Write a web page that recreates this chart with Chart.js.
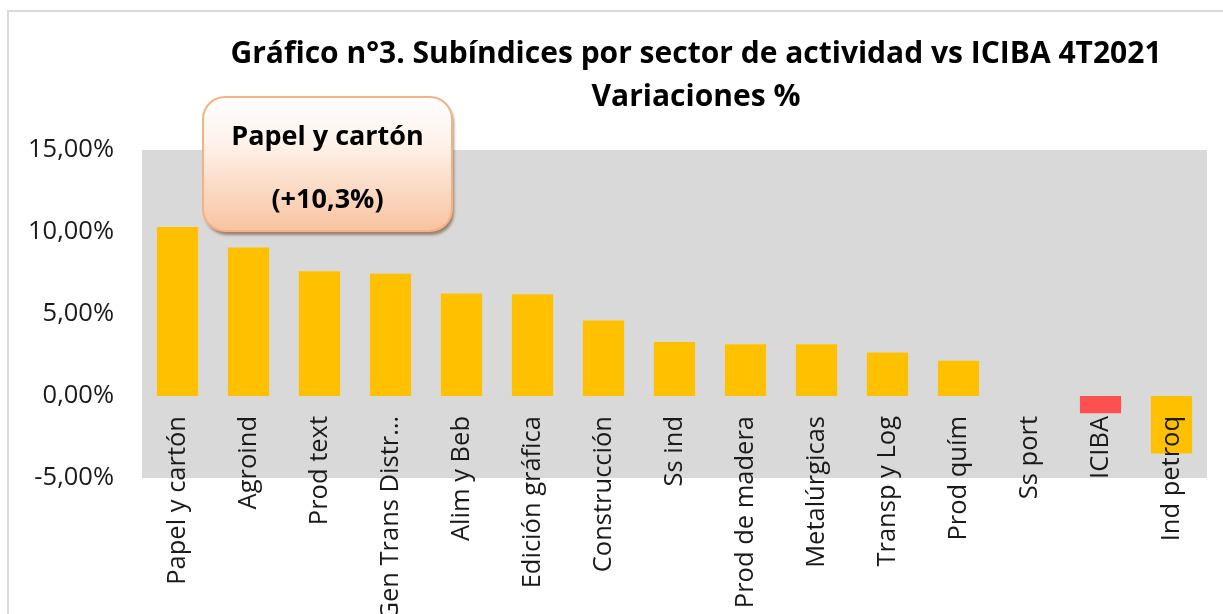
<!DOCTYPE html>
<html>
<head>
<meta charset="utf-8">
<script src="https://cdn.jsdelivr.net/npm/chart.js@4.4.1/dist/chart.umd.min.js"></script>
<style>
  html, body { margin: 0; padding: 0; background: #fff; }
  #wrap { width: 1223px; height: 614px; }
</style>
</head>
<body>
<div id="wrap"><canvas id="sectorChart"></canvas></div>
<script>
// DATA
const sectorLabels = ['Papel y cartón', 'Agroind', 'Prod text', 'Gen Trans Distr…', 'Alim y Beb',
  'Edición gráfica', 'Construcción', 'Ss ind', 'Prod de madera', 'Metalúrgicas',
  'Transp y Log', 'Prod quím', 'Ss port', 'ICIBA', 'Ind petroq'];
const variaciones = [10.3, 9.05, 7.6, 7.45, 6.25, 6.2, 4.6, 3.3, 3.15, 3.15, 2.65, 2.15, 0, -1.05, -3.5];
const yMin = -5, yMax = 15, yStep = 5;
const titleLines = ['Gráfico n°3. Subíndices por sector de actividad vs ICIBA 4T2021', 'Variaciones %'];
const calloutLines = ['Papel y cartón', '(+10,3%)'];

const barColors = sectorLabels.map(l => l === 'ICIBA' ? '#FF5050' : '#FFC000');
const FONT = '"Open Sans"';

// fondo, marco y área gris
const backdrop = {
  id: 'backdrop',
  beforeDraw(chart) {
    const {ctx, chartArea: a} = chart;
    ctx.save();
    ctx.fillStyle = '#fff';
    ctx.fillRect(0, 0, chart.width, chart.height);
    ctx.strokeStyle = '#d9d9d9';
    ctx.lineWidth = 2;
    ctx.beginPath();
    ctx.moveTo(8, chart.height);
    ctx.lineTo(8, 11);
    ctx.lineTo(chart.width, 11);
    ctx.stroke();
    ctx.fillStyle = '#d9d9d9';
    ctx.fillRect(a.left, a.top, a.right - a.left, a.bottom - a.top);
    ctx.restore();
  }
};

// titulo en dos lineas
const titleText = {
  id: 'titleText',
  afterDraw(chart) {
    const {ctx} = chart;
    ctx.save();
    ctx.fillStyle = '#000';
    ctx.font = 'bold 30px ' + FONT;
    ctx.textAlign = 'center';
    ctx.textBaseline = 'alphabetic';
    ctx.fillText(titleLines[0], 696, 63);
    ctx.fillText(titleLines[1], 696, 106);
    ctx.restore();
  }
};

// recuadro "Papel y cartón"
const callout = {
  id: 'callout',
  afterDraw(chart) {
    const {ctx, chartArea: a} = chart;
    const x = a.left + 61, y = a.top - 53, w = 249, h = 134, r = 22;
    ctx.save();
    const g = ctx.createLinearGradient(0, y, 0, y + h);
    g.addColorStop(0, '#ffffff');
    g.addColorStop(0.35, '#fef2ea');
    g.addColorStop(1, '#f8c3a0');
    ctx.shadowColor = 'rgba(110,70,40,0.6)';
    ctx.shadowOffsetX = 2;
    ctx.shadowOffsetY = 4;
    ctx.shadowBlur = 3;
    ctx.beginPath();
    ctx.roundRect(x, y, w, h, r);
    ctx.fillStyle = g;
    ctx.fill();
    ctx.shadowColor = 'transparent';
    ctx.strokeStyle = '#f4b183';
    ctx.lineWidth = 2;
    ctx.stroke();
    ctx.fillStyle = '#000';
    ctx.font = 'bold 27px ' + FONT;
    ctx.textAlign = 'center';
    ctx.fillText(calloutLines[0], x + w / 2, y + 48);
    ctx.fillText(calloutLines[1], x + w / 2, y + 111);
    ctx.restore();
  }
};

const ctx = document.getElementById('sectorChart').getContext('2d');
const sectorChart = new Chart(ctx, {
  type: 'bar',
  data: {
    labels: sectorLabels,
    datasets: [{
      label: 'Variación %',
      data: variaciones,
      backgroundColor: barColors,
      borderWidth: 0,
      barPercentage: 0.58,
      categoryPercentage: 1.0
    }]
  },
  options: {
    responsive: true,
    maintainAspectRatio: false,
    animation: false,
    layout: { padding: { left: 8, right: 16, top: 150, bottom: 136 } },
    plugins: {
      legend: { display: false },
      title: { display: false },
      tooltip: { enabled: false }
    },
    scales: {
      x: {
        position: { y: 0 },
        offset: true,
        grid: { display: false, drawTicks: false },
        border: { display: false },
        ticks: {
          z: 1, autoSkip: false, minRotation: 90, maxRotation: 90, padding: 20,
          color: '#1a1a1a', font: { family: FONT, size: 25.5 }
        },
        afterFit: s => { s.height = 0; }
      },
      y: {
        min: yMin, max: yMax,
        grid: { display: false, drawTicks: false },
        border: { display: false },
        ticks: {
          stepSize: yStep, padding: 28, color: '#1a1a1a',
          font: { family: FONT, size: 25.5 },
          callback: v => v.toFixed(2).replace('.', ',') + '%'
        },
        afterFit: s => { s.width = 134; }
      }
    }
  },
  plugins: [backdrop, titleText, callout]
});
</script>
</body>
</html>
